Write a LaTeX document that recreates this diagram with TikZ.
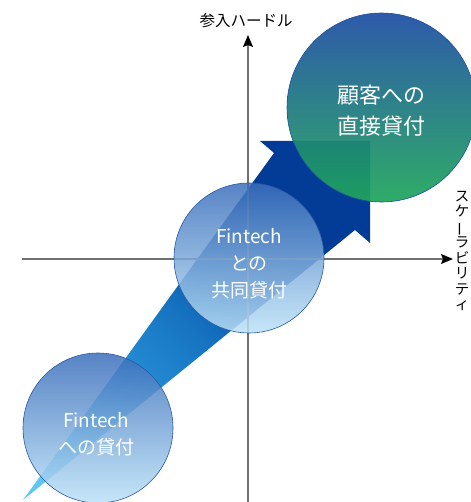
\documentclass[tikz,border=0pt]{standalone}
\usepackage{fontspec}
\usepackage{graphicx}
\setmainfont{Noto Sans CJK JP}
\usetikzlibrary{arrows.meta}
\definecolor{arrowlight}{HTML}{5BC8F5}
\definecolor{arrowlm}{HTML}{2288D0}
\definecolor{arrowmid}{HTML}{1470BE}
\definecolor{arrowdm}{HTML}{0A4AA2}
\definecolor{arrowdark}{HTML}{033C96}
\definecolor{bubtop}{HTML}{3A6EBB}
\definecolor{bubbot}{HTML}{BCE2F7}
\definecolor{bubedge}{HTML}{2A58A6}
\definecolor{gtop}{HTML}{1E4EA3}
\definecolor{gbot}{HTML}{1FA65C}
\definecolor{axisgray}{HTML}{707070}
\pgfdeclareverticalshading{arrowshade}{100bp}{color(0bp)=(arrowlight); color(25bp)=(arrowlight); color(40bp)=(arrowlm); color(50bp)=(arrowmid); color(58bp)=(arrowdm); color(66bp)=(arrowdark); color(100bp)=(arrowdark)}
\tikzset{
  axisline/.style={draw=axisgray, line width=1.2pt, -{Stealth[length=12pt,width=10pt,inset=2pt,black]}},
  bubble/.style={circle, draw=bubedge, line width=0.6pt, top color=bubtop, bottom color=bubbot,
    fill opacity=0.85, draw opacity=1, text opacity=1, text=white, align=center, inner sep=0pt,
    font=\fontsize{19}{27}\selectfont},
  gbubble/.style={circle, draw=gtop, line width=0.6pt, top color=gtop, bottom color=gbot,
    fill opacity=0.93, text opacity=1, text=white, align=center, inner sep=0pt,
    font=\fontsize{22}{31}\selectfont},
  btext/.style={text=white, align=center, inner sep=0pt, font=\fontsize{19}{27}\selectfont},
  gtext/.style={text=white, align=center, inner sep=0pt, font=\fontsize{22}{31}\selectfont},
  axislabel/.style={font=\fontsize{15.5}{15.5}\selectfont, inner sep=0pt}
}
\begin{document}
\begin{tikzpicture}[x=1pt,y=-1pt]
\useasboundingbox (0,0) rectangle (470,502);
% big arrow
\coordinate (tail) at (23,500);
\coordinate (ln) at (274,153);
\coordinate (lb) at (260,141);
\coordinate (tip) at (370,141);
\coordinate (rb) at (370,243);
\coordinate (rn) at (355,230);
\shade[shading=arrowshade, shading angle=-45]
  (tail) -- (ln) -- (lb) -- (tip) -- (rb) -- (rn) -- cycle;
% axes
\coordinate (xs) at (22,259);
\coordinate (xe) at (453,259);
\coordinate (ys) at (248,502);
\coordinate (ye) at (248,35);
\draw[axisline] (xs) -- (xe);
\draw[axisline] (ys) -- (ye);
% labels
\node[axislabel] (ylab) at (246,21) {参入ハードル};
\node[axislabel, anchor=north, align=center, font=\fontsize{14.5}{15.5}\selectfont] (xlab) at (462,191)
  {ス\\ケ\\\rotatebox[origin=c]{90}{ー}\\ラ\\ビ\\リ\\テ\\ィ};
% circles
\node[bubble, minimum size=150pt] (c1) at (98,428) {};
\node[btext] (t1) at (96,434) {Fintech\\への貸付};
\node[bubble, minimum size=150pt] (c2) at (249,258) {};
\node[btext] (t2) at (249,264) {Fintech\\との\\共同貸付};
\node[gbubble, minimum size=189pt] (c3) at (381.5,107.5) {};
\node[gtext] (t3) at (381,111) {顧客への\\直接貸付};
\end{tikzpicture}
\end{document}
